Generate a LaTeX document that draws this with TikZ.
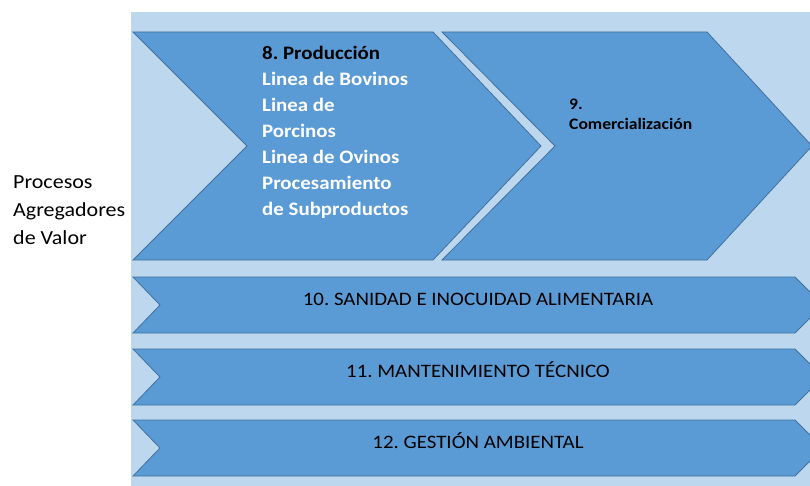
\documentclass[tikz,border=0pt]{standalone}
\usepackage{fontspec}
\setmainfont{Carlito}[FakeStretch=1.1]
\definecolor{bgblue}{HTML}{BDD7EE}
\definecolor{chev}{HTML}{5B9BD5}
\definecolor{chevline}{HTML}{41719C}
\frenchspacing
\begin{document}
\begin{tikzpicture}[x=1pt,y=-1pt,
  chevshape/.style={fill=chev, draw=chevline, line width=0.8pt, line join=miter},
  bartext/.style={font=\fontsize{19}{23}\selectfont, anchor=base, inner sep=0pt, text=black},
  sidetext/.style={font=\fontsize{20}{28}\selectfont, align=left, anchor=north west, inner sep=0pt},
  prodtext/.style={font=\bfseries\fontsize{19}{26}\selectfont, align=left, anchor=north west, inner sep=0pt, text=white},
  comtext/.style={font=\bfseries\fontsize{16}{20}\selectfont, align=left, anchor=north west, inner sep=0pt, text=black}]
\clip (0,0) rectangle (810,486);
\fill[white] (0,0) rectangle (810,486);
\fill[bgblue] (131,12) rectangle (810,486);
% chevrons
\draw[chevshape] (133,32) -- (433,32) -- (541,146) -- (433,260) -- (133,260) -- (247,146) -- cycle;
\draw[chevshape] (442,32) -- (707,32) -- (812,146) -- (707,260) -- (442,260) -- (555,146) -- cycle;
% bars
\draw[chevshape] (133,277) -- (795,277) -- (823,305) -- (795,333) -- (133,333) -- (160,305) -- cycle;
\draw[chevshape] (133,349) -- (795,349) -- (823,377) -- (795,405) -- (133,405) -- (160,377) -- cycle;
\draw[chevshape] (133,420) -- (795,420) -- (823,448) -- (795,476) -- (133,476) -- (160,448) -- cycle;
% texts
\node[prodtext] (prod) at (262,46.3) {\textcolor{black}{8. Producción}\\Linea de Bovinos\\Linea de\\Porcinos\\Linea de Ovinos\\Procesamiento\\de Subproductos};
\node[comtext] (com) at (569,99) {9.\\Comercialización};
\node[sidetext] (side) at (13,175) {Procesos\\Agregadores\\de Valor};
\node[bartext] (b10) at (478,305) {10. SANIDAD E INOCUIDAD ALIMENTARIA};
\node[bartext] (b11) at (478,377) {11. MANTENIMIENTO TÉCNICO};
\node[bartext] (b12) at (478,448) {12. GESTIÓN AMBIENTAL};
\end{tikzpicture}
\end{document}
